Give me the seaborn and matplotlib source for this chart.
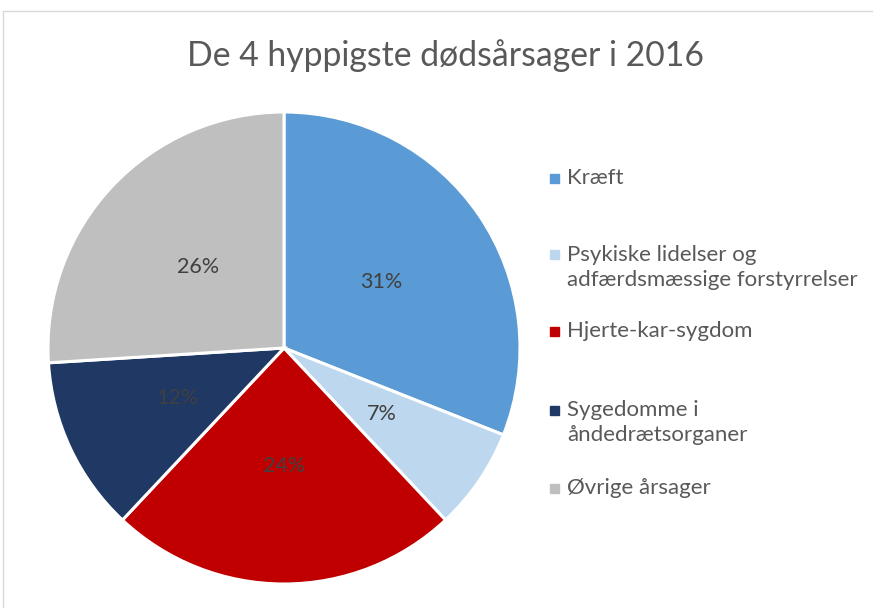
import matplotlib.pyplot as plt
import seaborn as sns
from matplotlib.patches import Rectangle

# Data
causes = ["Kræft", "Psykiske lidelser og\nadfærdsmæssige forstyrrelser",
          "Hjerte-kar-sygdom", "Sygedomme i\nåndedrætsorganer", "Øvrige årsager"]
shares = [31, 7, 24, 12, 26]
colors = ["#5B9BD5", "#BDD7EE", "#C00000", "#1F3864", "#BFBFBF"]
title = "De 4 hyppigste dødsårsager i 2016"

sns.set_theme(style="white")
plt.rcParams['font.family'] = ['Lato', 'DejaVu Sans']

W, H = 873, 608
fig = plt.figure(figsize=(W / 100, H / 100), dpi=100)

# pie axes: centre (284, 348), radius 236 px
cx, cy, r = 284, 348, 236
ax = fig.add_axes([(cx - r) / W, (H - cy - r) / H, 2 * r / W, 2 * r / H])
wedges, texts = ax.pie(shares, colors=colors, startangle=90, counterclock=False,
                       labels=[f"{s}%" for s in shares], labeldistance=0.5,
                       wedgeprops=dict(edgecolor="white", linewidth=2.2),
                       textprops=dict(color="#404040", fontsize=15.5))
for t in texts:
    t.set_ha("center")
    t.set_va("center")
ax.set_xlim(-1, 1)
ax.set_ylim(-1, 1)
ax.set_aspect("equal")
ax.axis("off")

fig.text(446 / W, 1 - 56 / H, title, ha="center", va="center",
         fontsize=24.3, color="#595959")

# legend, first lines evenly spaced
first_line_y = [178, 255, 331, 410, 488]
for cause, col, y in zip(causes, colors, first_line_y):
    fig.patches.append(Rectangle(((554 - 4.5) / W, 1 - (y + 4.5) / H), 9 / W, 9 / H,
                                 transform=fig.transFigure, color=col, figure=fig))
    fig.text(567 / W, 1 - (y - 10) / H, cause, ha="left", va="top",
             fontsize=16, color="#595959", linespacing=1.3)

# chart border
fig.patches.append(Rectangle((3 / W, -0.1), 1.1, (H - 11) / H + 0.1,
                             transform=fig.transFigure, fill=False,
                             edgecolor="#D9D9D9", linewidth=1, figure=fig))

fig.savefig("out.png", dpi=100)
